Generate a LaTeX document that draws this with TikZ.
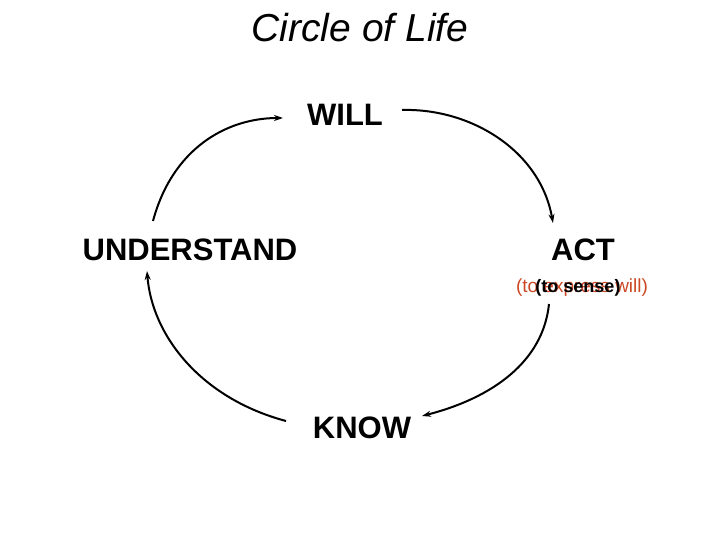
\documentclass[tikz,border=0pt]{standalone}
\usepackage{fontspec}
\setmainfont{Liberation Sans}
\usetikzlibrary{arrows.meta}
\definecolor{rojo}{RGB}{204,72,36}
\tikzset{
	paso/.style={font=\fontsize{31}{31}\selectfont\bfseries, inner sep=0pt},
	nota/.style={font=\fontsize{19}{19}\selectfont, inner sep=0pt},
	flecha/.style={line width=2pt, -{Stealth[length=9pt, width=6pt]}}
}
\begin{document}
\begin{tikzpicture}[x=1pt, y=-1pt]
\useasboundingbox (0,0) rectangle (720,540);

\node[font=\fontsize{39}{39}\selectfont\itshape, inner sep=0pt] (T) at (360,28) {Circle of Life};

% Etapas
\node[paso] (W) at (345,115) {WILL};
\node[paso] (U) at (190,250) {UNDERSTAND};
\node[paso] (A) at (583,250) {ACT};
\node[paso] (K) at (362,428) {KNOW};

\node[nota, text=rojo] (A1) at (582,288) {(to express will)};
\node[nota, font=\fontsize{18}{18}\selectfont\bfseries] (A2) at (578,288) {(to sense)};

% Extremos de las flechas
\coordinate (u1) at (153,221);
\coordinate (w1) at (283,118);
\coordinate (w2) at (402,110);
\coordinate (a1) at (553,223);
\coordinate (a2) at (549,304);
\coordinate (k1) at (422,416);
\coordinate (k2) at (286,421);
\coordinate (u2) at (147,271);

\draw[flecha] (u1) .. controls (172,150) and (225,118) .. (w1);
\draw[flecha] (w2) .. controls (470,108) and (540,150) .. (a1);
\draw[flecha] (a2) .. controls (543,362) and (492,398) .. (k1);
\draw[flecha] (k2) .. controls (200,398) and (152,335) .. (u2);
\end{tikzpicture}
\end{document}
